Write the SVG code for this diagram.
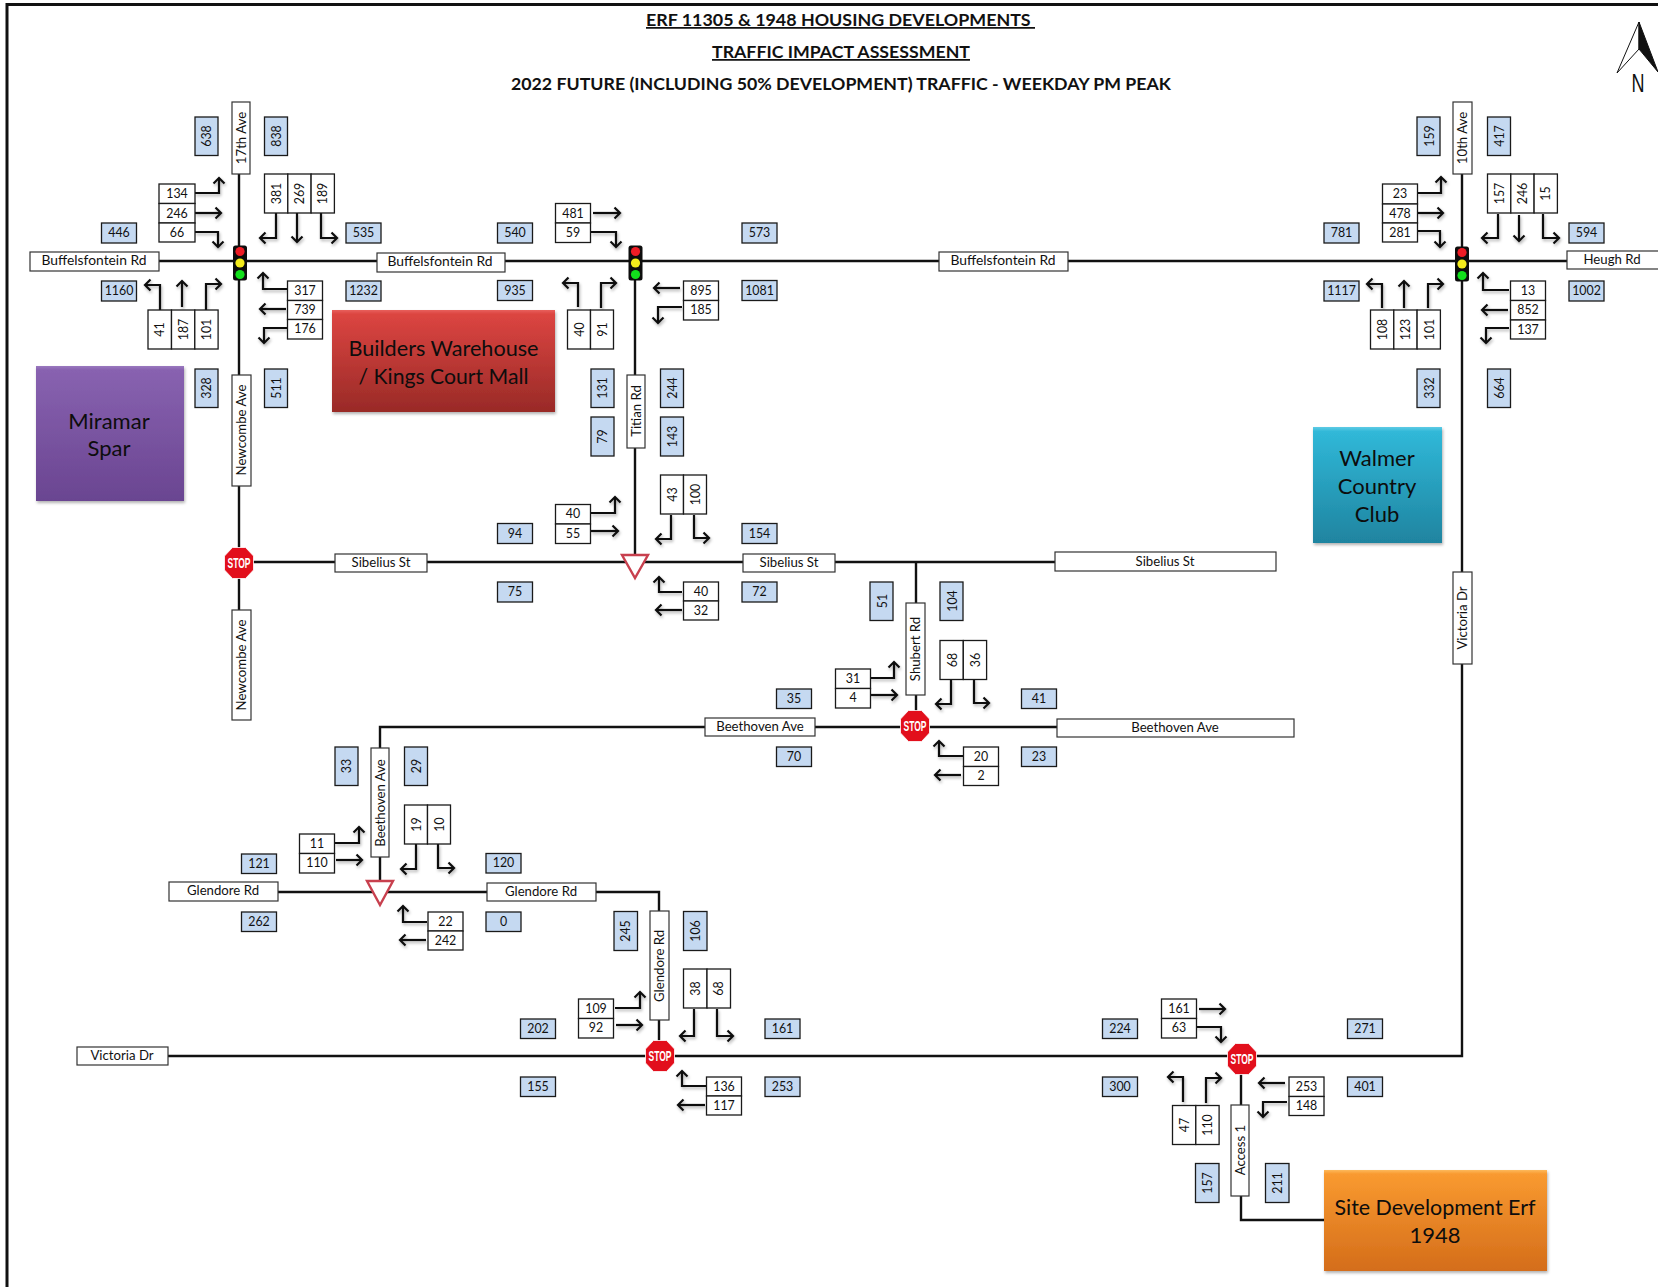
<svg xmlns="http://www.w3.org/2000/svg" width="1658" height="1287" viewBox="0 0 1658 1287">
<style>
text{font-family:Lato,"Liberation Sans",sans-serif;font-size:12.4px;fill:#111;text-anchor:middle;dominant-baseline:middle}
text[transform]{translate:1.2px 0}
text:not([transform]){translate:0 .9px}
#road-labels text{font-size:13.2px}
.w{fill:#fff;stroke:#1a1a1a;stroke-width:1.3}
.b{fill:#c5d9f1;stroke:#1a1a1a;stroke-width:1.3}
.r{fill:#fff;stroke:#333;stroke-width:1.2}
.road{fill:none;stroke:#111;stroke-width:2.4}
.a{fill:none;stroke:#111;stroke-width:2.2;marker-end:url(#ah)}
text.big{font-size:22px;fill:#0d0d0d;translate:0 2px}
text.h{font-weight:700;font-size:17.5px;text-anchor:start;dominant-baseline:auto;white-space:pre;translate:none}
.y{fill:#fff;stroke:#c8404e;stroke-width:2.4}
text.s{fill:#fff;font-family:"Liberation Sans",sans-serif;font-size:14px;font-weight:700;dominant-baseline:central;translate:none}
</style>
<defs>
<marker id="ah" markerUnits="userSpaceOnUse" markerWidth="16" markerHeight="16" refX="8" refY="8" orient="auto"><path d="M2.500 2.500L8 8L2.500 13.500" fill="none" stroke="#111" stroke-width="2.200"/></marker>
<filter id="sh" x="-20%" y="-20%" width="140%" height="140%"><feDropShadow dx="1" dy="2" stdDeviation="1.400" flood-opacity=".3"/></filter>
<linearGradient id="gp" x1="0" y1="0" x2="0" y2="1"><stop offset="0" stop-color="#9a79bf"/><stop offset=".03" stop-color="#8862b0"/><stop offset="1" stop-color="#6a4591"/></linearGradient>
<linearGradient id="gr" x1="0" y1="0" x2="0" y2="1"><stop offset="0" stop-color="#e8605c"/><stop offset=".04" stop-color="#dc4541"/><stop offset="1" stop-color="#992a27"/></linearGradient>
<linearGradient id="gt" x1="0" y1="0" x2="0" y2="1"><stop offset="0" stop-color="#5fcbe5"/><stop offset=".04" stop-color="#30b8d8"/><stop offset="1" stop-color="#1f84a0"/></linearGradient>
<linearGradient id="go" x1="0" y1="0" x2="0" y2="1"><stop offset="0" stop-color="#fdb95c"/><stop offset=".04" stop-color="#f99a30"/><stop offset="1" stop-color="#d46d1a"/></linearGradient>
<g id="light"><rect x="-7" y="-17.500" width="14" height="35" rx="2.500" fill="#0d0d0d"/><circle cy="-11.500" r="4.600" fill="#ee1c25"/><circle cy="0" r="4.600" fill="#f4ec1c"/><circle cy="11.500" r="4.600" fill="#12e01c"/></g>
<g id="stop"><path d="M-6.500-15.500H6.500L14.500-7V7L6.500 15.500H-6.500L-14.500 7V-7Z" fill="#e20f1c" stroke="#fff" stroke-width=".8"/></g>
</defs>
<rect width="1658" height="1287" fill="#fff"/>
<path d="M7 1287V4.500H1658" fill="none" stroke="#111" stroke-width="3"/>
<g id="title">
<text class="h" x="646" y="26" text-decoration="underline" textLength="389" lengthAdjust="spacingAndGlyphs">ERF 11305 &amp; 1948 HOUSING DEVELOPMENTS </text>
<text class="h" x="712" y="58" text-decoration="underline" textLength="258" lengthAdjust="spacingAndGlyphs">TRAFFIC IMPACT ASSESSMENT</text>
<text class="h" x="511" y="90" textLength="660" lengthAdjust="spacingAndGlyphs">2022 FUTURE (INCLUDING 50% DEVELOPMENT) TRAFFIC - WEEKDAY PM PEAK</text>
</g>
<g id="north"><path d="M1639 22L1617 73L1639 49Z" fill="#fff" stroke="#111" stroke-width="1"/><path d="M1639 22L1658 72L1639 49Z" fill="#111" stroke="#111" stroke-width="1"/><text x="1638" y="83" style="font-size:25px;font-family:'Liberation Sans',sans-serif;dominant-baseline:central;translate:none" textLength="13" lengthAdjust="spacingAndGlyphs">N</text></g>
<g id="connectors">
<path class="road" d="M159 261H1567"/>
<path class="road" d="M239 174V610"/>
<path class="road" d="M635 261V562"/>
<path class="road" d="M1462 174V1056H168"/>
<path class="road" d="M239 562H1055"/>
<path class="road" d="M916 562V727"/>
<path class="road" d="M1057 727H380V892"/>
<path class="road" d="M278 892H659V1056"/>
<path class="road" d="M1241 1059V1220H1327"/>
</g>
<g id="arrows" filter="url(#sh)">
<path class="a" d="M195 193H219V178"/><path class="a" d="M195 213H221"/><path class="a" d="M195 232H218V247"/>
<path class="a" d="M276 213V238H260"/><path class="a" d="M297 213V242"/><path class="a" d="M321 213V238H337"/>
<path class="a" d="M287 289H263V273"/><path class="a" d="M286 309H260"/><path class="a" d="M287 328H264V343"/>
<path class="a" d="M160 310V285H145"/><path class="a" d="M182 307V281"/><path class="a" d="M206 310V284H221"/>
<path class="a" d="M593 213H620"/><path class="a" d="M591 232H616V247"/>
<path class="a" d="M680 288H654"/><path class="a" d="M682 307H658V323"/>
<path class="a" d="M578 307V283H563"/><path class="a" d="M601 308V283H616"/>
<path class="a" d="M671 515V539H656"/><path class="a" d="M694 515V538H709"/>
<path class="a" d="M591 513H615V497"/><path class="a" d="M591 531H618"/>
<path class="a" d="M682 592H659V577"/><path class="a" d="M682 610H656"/>
<path class="a" d="M1418 193H1441V177"/><path class="a" d="M1418 213H1443"/><path class="a" d="M1416 231H1440V247"/>
<path class="a" d="M1498 214V238H1482"/><path class="a" d="M1519 215V241"/><path class="a" d="M1543 214V238H1559"/>
<path class="a" d="M1382 308V284H1367"/><path class="a" d="M1404 308V281"/><path class="a" d="M1428 308V284H1443"/>
<path class="a" d="M1509 290H1483V273"/><path class="a" d="M1508 310H1482"/><path class="a" d="M1509 328H1486V343"/>
<path class="a" d="M870 678H894V662"/><path class="a" d="M871 695H897"/>
<path class="a" d="M951 679V704H936"/><path class="a" d="M974 679V703H989"/>
<path class="a" d="M963 756H939V741"/><path class="a" d="M961 775H935"/>
<path class="a" d="M335 843H359V827"/><path class="a" d="M336 860H362"/>
<path class="a" d="M416 844V869H401"/><path class="a" d="M438 844V868H454"/>
<path class="a" d="M427 922H403V906"/><path class="a" d="M426 940H400"/>
<path class="a" d="M615 1008H640V992"/><path class="a" d="M616 1025H642"/>
<path class="a" d="M694 1009V1036H680"/><path class="a" d="M717 1009V1036H733"/>
<path class="a" d="M706 1086H682V1071"/><path class="a" d="M705 1105H678"/>
<path class="a" d="M1199 1009H1225"/><path class="a" d="M1197 1027H1221V1042"/>
<path class="a" d="M1183 1102V1077H1168"/><path class="a" d="M1206 1103V1078H1221"/>
<path class="a" d="M1285 1083H1259"/><path class="a" d="M1287 1102H1263V1117"/>
</g>
<g id="site-miramar" filter="url(#sh)"><rect x="36" y="366" width="148" height="135" fill="url(#gp)"/></g>
<g id="miramar-label"><text class="big" x="109" y="421">Miramar</text><text class="big" x="109" y="448">Spar</text></g>
<g id="site-builders" filter="url(#sh)"><rect x="332" y="310" width="223" height="102" fill="url(#gr)"/></g>
<g id="builders-label"><text class="big" x="443.500" y="348" textLength="190" lengthAdjust="spacingAndGlyphs">Builders Warehouse</text><text class="big" x="443.500" y="376" textLength="170" lengthAdjust="spacingAndGlyphs">/ Kings Court Mall</text></g>
<g id="site-walmer" filter="url(#sh)"><rect x="1313" y="427" width="129" height="116" fill="url(#gt)"/></g>
<g id="walmer-label"><text class="big" x="1377" y="458">Walmer</text><text class="big" x="1377" y="486">Country</text><text class="big" x="1377" y="514">Club</text></g>
<g id="site-erf" filter="url(#sh)"><rect x="1324" y="1170" width="223" height="101" fill="url(#go)"/></g>
<g id="erf-label"><text class="big" x="1435" y="1207" textLength="201" lengthAdjust="spacingAndGlyphs">Site Development Erf</text><text class="big" x="1435" y="1235">1948</text></g>

<g id="road-labels">
<rect class="r" x="30" y="252" width="129" height="19"/><text x="94" y="261" textLength="105" lengthAdjust="spacingAndGlyphs">Buffelsfontein Rd</text>
<rect class="r" x="377" y="253" width="128" height="19"/><text x="440" y="262" textLength="105" lengthAdjust="spacingAndGlyphs">Buffelsfontein Rd</text>
<rect class="r" x="939" y="252" width="129" height="19"/><text x="1003" y="261" textLength="105" lengthAdjust="spacingAndGlyphs">Buffelsfontein Rd</text>
<rect class="r" x="1567" y="251" width="95" height="18"/><text x="1612" y="260">Heugh Rd</text>
<rect class="r" x="232" y="102" width="18" height="72"/><text transform="translate(241 138) rotate(-90)">17th Ave</text>
<rect class="r" x="232" y="375" width="19" height="111"/><text transform="translate(241.500 430) rotate(-90)">Newcombe Ave</text>
<rect class="r" x="232" y="610" width="19" height="110"/><text transform="translate(241.500 665) rotate(-90)">Newcombe Ave</text>
<rect class="r" x="627" y="375" width="18" height="73"/><text transform="translate(636 411) rotate(-90)">Titian Rd</text>
<rect class="r" x="1453" y="102" width="19" height="72"/><text transform="translate(1462.500 138) rotate(-90)">10th Ave</text>
<rect class="r" x="1453" y="572" width="19" height="92"/><text transform="translate(1462.500 618) rotate(-90)">Victoria Dr</text>
<rect class="r" x="335" y="554" width="92" height="18"/><text x="381" y="563">Sibelius St</text>
<rect class="r" x="743" y="554" width="92" height="18"/><text x="789" y="563">Sibelius St</text>
<rect class="r" x="1055" y="552" width="221" height="19"/><text x="1165" y="562">Sibelius St</text>
<rect class="r" x="906" y="603" width="19" height="92"/><text transform="translate(915.500 649) rotate(-90)">Shubert Rd</text>
<rect class="r" x="705" y="718" width="110" height="18"/><text x="760" y="727">Beethoven Ave</text>
<rect class="r" x="1057" y="719" width="237" height="18"/><text x="1175" y="728">Beethoven Ave</text>
<rect class="r" x="371" y="748" width="18" height="109"/><text transform="translate(380 803) rotate(-90)">Beethoven Ave</text>
<rect class="r" x="169" y="882" width="109" height="19"/><text x="223" y="891">Glendore Rd</text>
<rect class="r" x="487" y="883" width="109" height="18"/><text x="541" y="892">Glendore Rd</text>
<rect class="r" x="650" y="911" width="19" height="109"/><text transform="translate(659.500 966) rotate(-90)">Glendore Rd</text>
<rect class="r" x="77" y="1047" width="91" height="18"/><text x="122" y="1056">Victoria Dr</text>
<rect class="r" x="1231" y="1105" width="18" height="91"/><text transform="translate(1240 1150) rotate(-90)">Access 1</text>
</g>

<g id="light-17th"><use href="#light" x="240" y="263"/></g>
<g id="light-titian"><use href="#light" x="635.500" y="263"/></g>
<g id="light-10th"><use href="#light" x="1462" y="264"/></g>
<g id="stop-newcombe"><use href="#stop" x="239" y="563"/><text class="s" x="239" y="563" textLength="23" lengthAdjust="spacingAndGlyphs">STOP</text></g>
<g id="stop-shubert"><use href="#stop" x="915" y="726"/><text class="s" x="915" y="726" textLength="23" lengthAdjust="spacingAndGlyphs">STOP</text></g>
<g id="stop-glendore"><use href="#stop" x="660" y="1056"/><text class="s" x="660" y="1056" textLength="23" lengthAdjust="spacingAndGlyphs">STOP</text></g>
<g id="stop-access"><use href="#stop" x="1242" y="1059"/><text class="s" x="1242" y="1059" textLength="23" lengthAdjust="spacingAndGlyphs">STOP</text></g>
<g id="yield-titian"><path class="y" d="M622 555H648L635 578Z"/></g>
<g id="yield-beethoven"><path class="y" d="M367 881H393L380 905Z"/></g>

<g id="i1-west"><rect class="w" x="159" y="184" width="36" height="19.500"/><text x="177" y="194">134</text><rect class="w" x="159" y="203.500" width="36" height="19.500"/><text x="177" y="213.500">246</text><rect class="w" x="159" y="223" width="36" height="19"/><text x="177" y="232.500">66</text></g>
<g id="i1-north"><rect class="w" x="264.500" y="174" width="23.300" height="39"/><text transform="translate(277 193.500) rotate(-90)">381</text><rect class="w" x="287.800" y="174" width="23.300" height="39"/><text transform="translate(300 193.500) rotate(-90)">269</text><rect class="w" x="311.100" y="174" width="23.300" height="39"/><text transform="translate(323 193.500) rotate(-90)">189</text></g>
<g id="i1-east"><rect class="w" x="287.500" y="281" width="35" height="19.500"/><text x="305" y="291">317</text><rect class="w" x="287.500" y="300.500" width="35" height="19"/><text x="305" y="310">739</text><rect class="w" x="287.500" y="319.500" width="35" height="19.500"/><text x="305" y="329">176</text></g>
<g id="i1-south"><rect class="w" x="148" y="310" width="23.500" height="39"/><text transform="translate(160 329.500) rotate(-90)">41</text><rect class="w" x="171.500" y="310" width="23.300" height="39"/><text transform="translate(183.500 329.500) rotate(-90)">187</text><rect class="w" x="194.800" y="310" width="23.300" height="39"/><text transform="translate(207 329.500) rotate(-90)">101</text></g>

<g id="i2-west"><rect class="w" x="555.500" y="203.500" width="35" height="19.500"/><text x="573" y="213.500">481</text><rect class="w" x="555.500" y="223" width="35" height="19.500"/><text x="573" y="232.500">59</text></g>
<g id="i2-east"><rect class="w" x="683.500" y="281" width="35" height="19.500"/><text x="701" y="291">895</text><rect class="w" x="683.500" y="300.500" width="35" height="19.500"/><text x="701" y="310">185</text></g>
<g id="i2-south"><rect class="w" x="567.500" y="310" width="23" height="39"/><text transform="translate(579.500 329.500) rotate(-90)">40</text><rect class="w" x="590.500" y="310" width="23" height="39"/><text transform="translate(603 329.500) rotate(-90)">91</text></g>
<g id="i3-north"><rect class="w" x="660.500" y="475" width="23" height="39"/><text transform="translate(673 494.500) rotate(-90)">43</text><rect class="w" x="683.500" y="475" width="23" height="39"/><text transform="translate(696 494.500) rotate(-90)">100</text></g>
<g id="i3-west"><rect class="w" x="555.500" y="504.500" width="35" height="19.500"/><text x="573" y="514">40</text><rect class="w" x="555.500" y="524" width="35" height="19.500"/><text x="573" y="534">55</text></g>
<g id="i3-east"><rect class="w" x="683.500" y="582" width="35" height="19"/><text x="701" y="591.500">40</text><rect class="w" x="683.500" y="601" width="35" height="19"/><text x="701" y="610.500">32</text></g>

<g id="i4-west"><rect class="w" x="1382.500" y="184" width="35" height="20"/><text x="1400" y="194">23</text><rect class="w" x="1382.500" y="204" width="35" height="19"/><text x="1400" y="213.500">478</text><rect class="w" x="1382.500" y="223" width="35" height="19"/><text x="1400" y="232.500">281</text></g>
<g id="i4-north"><rect class="w" x="1487.500" y="174" width="23.300" height="39"/><text transform="translate(1500 193.500) rotate(-90)">157</text><rect class="w" x="1510.800" y="174" width="23.300" height="39"/><text transform="translate(1523 193.500) rotate(-90)">246</text><rect class="w" x="1534.100" y="174" width="23.300" height="39"/><text transform="translate(1546 193.500) rotate(-90)">15</text></g>
<g id="i4-south"><rect class="w" x="1370.500" y="310" width="23.300" height="39"/><text transform="translate(1383 329.500) rotate(-90)">108</text><rect class="w" x="1393.800" y="310" width="23.300" height="39"/><text transform="translate(1406 329.500) rotate(-90)">123</text><rect class="w" x="1417.100" y="310" width="23.300" height="39"/><text transform="translate(1429.500 329.500) rotate(-90)">101</text></g>
<g id="i4-east"><rect class="w" x="1510.500" y="281" width="35" height="19.500"/><text x="1528" y="291">13</text><rect class="w" x="1510.500" y="300.500" width="35" height="19.500"/><text x="1528" y="310">852</text><rect class="w" x="1510.500" y="320" width="35" height="19"/><text x="1528" y="329.500">137</text></g>

<g id="i5-west"><rect class="w" x="835.500" y="669" width="35" height="19.500"/><text x="853" y="678.500">31</text><rect class="w" x="835.500" y="688.500" width="35" height="19.500"/><text x="853" y="698">4</text></g>
<g id="i5-north"><rect class="w" x="940" y="640.500" width="23.300" height="39"/><text transform="translate(952.500 660) rotate(-90)">68</text><rect class="w" x="963.300" y="640.500" width="23.300" height="39"/><text transform="translate(975.500 660) rotate(-90)">36</text></g>
<g id="i5-east"><rect class="w" x="963.500" y="747" width="35" height="19.500"/><text x="981" y="756.500">20</text><rect class="w" x="963.500" y="766.500" width="35" height="19"/><text x="981" y="776">2</text></g>

<g id="i6-west"><rect class="w" x="299.500" y="834" width="35" height="19.500"/><text x="317" y="843.500">11</text><rect class="w" x="299.500" y="853.500" width="35" height="19.500"/><text x="317" y="863">110</text></g>
<g id="i6-north"><rect class="w" x="404.500" y="805" width="23" height="39"/><text transform="translate(417 824.500) rotate(-90)">19</text><rect class="w" x="427.500" y="805" width="23" height="39"/><text transform="translate(440 824.500) rotate(-90)">10</text></g>
<g id="i6-east"><rect class="w" x="428" y="912" width="35" height="19"/><text x="445.500" y="921.500">22</text><rect class="w" x="428" y="931" width="35" height="19"/><text x="445.500" y="940.500">242</text></g>

<g id="i7-west"><rect class="w" x="578.500" y="999" width="35" height="19.500"/><text x="596" y="1008.500">109</text><rect class="w" x="578.500" y="1018.500" width="35" height="19.500"/><text x="596" y="1028">92</text></g>
<g id="i7-north"><rect class="w" x="683.500" y="969" width="23.500" height="39"/><text transform="translate(696 988.500) rotate(-90)">38</text><rect class="w" x="707" y="969" width="23.500" height="39"/><text transform="translate(719 988.500) rotate(-90)">68</text></g>
<g id="i7-east"><rect class="w" x="706.500" y="1077" width="35" height="19"/><text x="724" y="1086.500">136</text><rect class="w" x="706.500" y="1096" width="35" height="19"/><text x="724" y="1105.500">117</text></g>

<g id="i8-west"><rect class="w" x="1161.500" y="999" width="35" height="19.500"/><text x="1179" y="1008.500">161</text><rect class="w" x="1161.500" y="1018.500" width="35" height="19.500"/><text x="1179" y="1028">63</text></g>
<g id="i8-south"><rect class="w" x="1172.500" y="1105.500" width="23.300" height="39"/><text transform="translate(1185 1125) rotate(-90)">47</text><rect class="w" x="1195.800" y="1105.500" width="23.300" height="39"/><text transform="translate(1208 1125) rotate(-90)">110</text></g>
<g id="i8-east"><rect class="w" x="1289" y="1077" width="35" height="19.500"/><text x="1306.500" y="1086.500">253</text><rect class="w" x="1289" y="1096.500" width="35" height="19"/><text x="1306.500" y="1106">148</text></g>

<g id="totals-h">
<g id="b446"><rect class="b" x="101.500" y="223" width="35" height="20"/><text x="119" y="233">446</text></g>
<g id="b535"><rect class="b" x="346" y="223" width="35" height="20"/><text x="363.500" y="233">535</text></g>
<g id="b1160"><rect class="b" x="101.500" y="281" width="35" height="20"/><text x="119" y="291">1160</text></g>
<g id="b1232"><rect class="b" x="346" y="281" width="35" height="20"/><text x="363.500" y="291">1232</text></g>
<g id="b540"><rect class="b" x="497.500" y="223" width="35" height="20"/><text x="515" y="233">540</text></g>
<g id="b573"><rect class="b" x="742" y="223" width="35" height="20"/><text x="759.500" y="233">573</text></g>
<g id="b935"><rect class="b" x="497.500" y="280.500" width="35" height="20"/><text x="515" y="290.500">935</text></g>
<g id="b1081"><rect class="b" x="742" y="280.500" width="35" height="20"/><text x="759.500" y="290.500">1081</text></g>
<g id="b94"><rect class="b" x="497.500" y="523.500" width="35" height="20"/><text x="515" y="533.500">94</text></g>
<g id="b154"><rect class="b" x="742" y="523.500" width="35" height="20"/><text x="759.500" y="533.500">154</text></g>
<g id="b75"><rect class="b" x="497.500" y="582" width="35" height="20"/><text x="515" y="592">75</text></g>
<g id="b72"><rect class="b" x="742" y="582" width="35" height="20"/><text x="759.500" y="592">72</text></g>
<g id="b781"><rect class="b" x="1324" y="223" width="35" height="20"/><text x="1341.500" y="233">781</text></g>
<g id="b594"><rect class="b" x="1569" y="223" width="35" height="20"/><text x="1586.500" y="233">594</text></g>
<g id="b1117"><rect class="b" x="1324" y="281" width="35" height="20"/><text x="1341.500" y="291">1117</text></g>
<g id="b1002"><rect class="b" x="1569" y="281" width="35" height="20"/><text x="1586.500" y="291">1002</text></g>
<g id="b35"><rect class="b" x="776.500" y="689" width="35" height="19.500"/><text x="794" y="699">35</text></g>
<g id="b41"><rect class="b" x="1021.500" y="689" width="35" height="19.500"/><text x="1039" y="699">41</text></g>
<g id="b70"><rect class="b" x="776.500" y="747" width="35" height="19.500"/><text x="794" y="757">70</text></g>
<g id="b23"><rect class="b" x="1021.500" y="747" width="35" height="19.500"/><text x="1039" y="757">23</text></g>
<g id="b121"><rect class="b" x="241.500" y="854" width="35" height="19.500"/><text x="259" y="864">121</text></g>
<g id="b120"><rect class="b" x="486" y="853.500" width="35" height="19.500"/><text x="503.500" y="863">120</text></g>
<g id="b262"><rect class="b" x="241.500" y="912" width="35" height="19.500"/><text x="259" y="922">262</text></g>
<g id="b0"><rect class="b" x="486" y="912" width="35" height="19.500"/><text x="503.500" y="922">0</text></g>
<g id="b202"><rect class="b" x="520.500" y="1019" width="35" height="19.500"/><text x="538" y="1029">202</text></g>
<g id="b161"><rect class="b" x="765" y="1019" width="35" height="19.500"/><text x="782.500" y="1029">161</text></g>
<g id="b155"><rect class="b" x="520.500" y="1077" width="35" height="19.500"/><text x="538" y="1087">155</text></g>
<g id="b253"><rect class="b" x="765" y="1077" width="35" height="19.500"/><text x="782.500" y="1087">253</text></g>
<g id="b224"><rect class="b" x="1102.500" y="1019" width="35" height="19.500"/><text x="1120" y="1029">224</text></g>
<g id="b271"><rect class="b" x="1347.500" y="1019" width="35" height="19.500"/><text x="1365" y="1029">271</text></g>
<g id="b300"><rect class="b" x="1102.500" y="1077" width="35" height="19.500"/><text x="1120" y="1087">300</text></g>
<g id="b401"><rect class="b" x="1347.500" y="1077" width="35" height="19.500"/><text x="1365" y="1087">401</text></g>
</g>
<g id="totals-v">
<g id="b638"><rect class="b" x="195" y="117" width="23" height="38.500"/><text transform="translate(207 136) rotate(-90)">638</text></g>
<g id="b838"><rect class="b" x="264.500" y="117" width="23" height="38.500"/><text transform="translate(277 136) rotate(-90)">838</text></g>
<g id="b328"><rect class="b" x="195" y="369" width="23" height="38.500"/><text transform="translate(207 388) rotate(-90)">328</text></g>
<g id="b511"><rect class="b" x="264.500" y="369" width="23" height="38.500"/><text transform="translate(277 388) rotate(-90)">511</text></g>
<g id="b131"><rect class="b" x="591" y="369" width="23" height="38.500"/><text transform="translate(603 388) rotate(-90)">131</text></g>
<g id="b244"><rect class="b" x="660.500" y="369" width="23" height="38.500"/><text transform="translate(673 388) rotate(-90)">244</text></g>
<g id="b79"><rect class="b" x="591" y="417" width="23" height="39"/><text transform="translate(603 436.500) rotate(-90)">79</text></g>
<g id="b143"><rect class="b" x="660.500" y="417" width="23" height="39"/><text transform="translate(673 436.500) rotate(-90)">143</text></g>
<g id="b159"><rect class="b" x="1417" y="117" width="23" height="38.500"/><text transform="translate(1429.500 136) rotate(-90)">159</text></g>
<g id="b417"><rect class="b" x="1487.500" y="117" width="23" height="38.500"/><text transform="translate(1500 136) rotate(-90)">417</text></g>
<g id="b332"><rect class="b" x="1417" y="369" width="23" height="38.500"/><text transform="translate(1429.500 388) rotate(-90)">332</text></g>
<g id="b664"><rect class="b" x="1487.500" y="369" width="23" height="38.500"/><text transform="translate(1500 388) rotate(-90)">664</text></g>
<g id="b51"><rect class="b" x="870" y="582" width="23" height="38.500"/><text transform="translate(882.500 601) rotate(-90)">51</text></g>
<g id="b104"><rect class="b" x="940" y="582" width="23" height="38.500"/><text transform="translate(952.500 601) rotate(-90)">104</text></g>
<g id="b33"><rect class="b" x="335" y="747" width="23" height="38.500"/><text transform="translate(347 766) rotate(-90)">33</text></g>
<g id="b29"><rect class="b" x="404.500" y="747" width="23" height="38.500"/><text transform="translate(416.500 766) rotate(-90)">29</text></g>
<g id="b245"><rect class="b" x="614" y="911.500" width="23.500" height="39"/><text transform="translate(626 931) rotate(-90)">245</text></g>
<g id="b106"><rect class="b" x="683.500" y="911.500" width="23.500" height="39"/><text transform="translate(696 931) rotate(-90)">106</text></g>
<g id="b157"><rect class="b" x="1195.500" y="1163.500" width="23.500" height="39"/><text transform="translate(1208 1183) rotate(-90)">157</text></g>
<g id="b211"><rect class="b" x="1265.500" y="1163.500" width="23.500" height="39"/><text transform="translate(1278 1183) rotate(-90)">211</text></g>
</g>
</svg>
